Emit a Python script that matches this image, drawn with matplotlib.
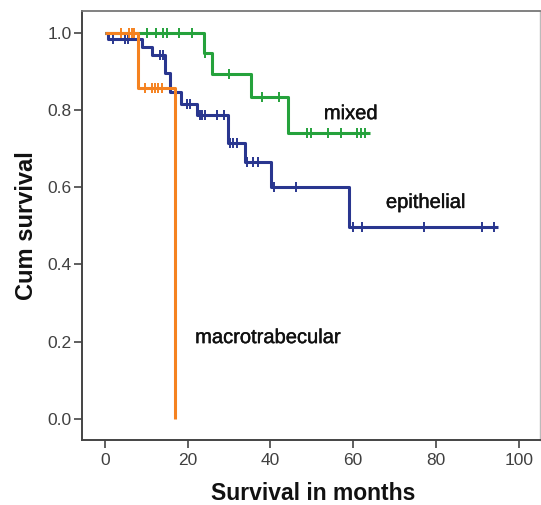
import numpy as np
import matplotlib
matplotlib.use("Agg")
import matplotlib.pyplot as plt
import matplotlib.patheffects as pe

plt.rcParams["font.family"] = ["Liberation Sans", "DejaVu Sans"]

# Kaplan-Meier data (months, cumulative survival)
epi_event_t = [0.75, 8.9, 11.5, 14.5, 15.7, 18.5, 22.2, 29.8, 33.8, 40.1, 59.0]
epi_event_s = [0.983, 0.964, 0.942, 0.895, 0.847, 0.815, 0.787, 0.713, 0.666, 0.601, 0.497]
epi_cens_t = [2.0, 4.9, 5.65, 13.3, 14.0, 19.8, 20.6, 23.0, 23.5, 24.3, 27.0, 28.8,
              30.2, 31.0, 31.8, 34.25, 35.8, 37.0, 40.8, 46.1, 59.9, 62.0, 77.1, 91.0, 94.0]
epi_end = 95.0

mix_event_t = [24.0, 25.9, 35.2, 44.2]
mix_event_s = [0.947, 0.892, 0.834, 0.739]
mix_cens_t = [10.1, 12.3, 14.1, 14.9, 18.0, 21.0, 24.2, 30.0, 37.9, 42.05,
              48.9, 49.7, 54.0, 57.0, 61.0, 61.9, 62.8]
mix_end = 64.0

mac_event_t = [7.9, 16.9]
mac_event_s = [0.857, 0.0]
mac_cens_t = [3.9, 5.8, 6.6, 7.1, 9.7, 11.3, 12.1, 12.9, 13.7]
mac_end = 16.9

groups = [
    ("mixed", mix_event_t, mix_event_s, mix_cens_t, mix_end, "#25a23c"),
    ("epithelial", epi_event_t, epi_event_s, epi_cens_t, epi_end, "#29368f"),
    ("macrotrabecular", mac_event_t, mac_event_s, mac_cens_t, mac_end, "#f58220"),
]


def km_value(t, event_t, event_s):
    # survival just after time t on the step curve
    idx = np.searchsorted(event_t, t, side="right")
    return 1.0 if idx == 0 else event_s[idx - 1]


fig = plt.figure(figsize=(5.41, 5.05), dpi=100)
ax = fig.add_axes([0.151, 0.1287, 0.847, 0.8495])

for name, ev_t, ev_s, c_t, t_end, color in groups:
    xs = [0.0] + list(ev_t) + [t_end]
    ys = [1.0] + list(ev_s) + [ev_s[-1]]
    ax.step(xs, ys, where="post", color=color, lw=2.2, solid_capstyle="butt")
    c_s = [km_value(t, ev_t, ev_s) for t in c_t]
    ax.plot(c_t, c_s, ls="none", marker="|", ms=7.5, mew=1.4, color=color)

# group labels (slight stroke to mimic the heavier original rendering)
thick = [pe.withStroke(linewidth=0.3, foreground="#111111")]
ax.text(52.9, 0.776, "mixed", fontsize=14.5, color="#111111", path_effects=thick)
ax.text(67.9, 0.546, "epithelial", fontsize=14.5, color="#111111", path_effects=thick)
ax.text(21.8, 0.196, "macrotrabecular", fontsize=14.5, color="#111111", path_effects=thick)

ax.set_xlim(-5.6, 105.1)
ax.set_ylim(-0.055, 1.056)
ax.set_xticks([0, 20, 40, 60, 80, 100])
ax.set_yticks([0.0, 0.2, 0.4, 0.6, 0.8, 1.0])
ax.set_yticklabels(["0.0", "0.2", "0.4", "0.6", "0.8", "1.0"])
ax.tick_params(axis="both", direction="out", length=6, width=1.2, color="#444444",
               labelsize=12.5, labelcolor="#404040")
ax.tick_params(axis="y", pad=1)
ax.tick_params(axis="x", pad=3)

for side in ["left", "bottom"]:
    ax.spines[side].set_color("#444444")
    ax.spines[side].set_linewidth(1.4)
ax.spines["top"].set_color("#777777")
ax.spines["top"].set_linewidth(1.3)
ax.spines["right"].set_color("#bbbbbb")
ax.spines["right"].set_linewidth(1.0)

fig.text(0.578, 0.0099, "Survival in months", fontsize=16.5, fontweight="bold",
         ha="center", va="baseline", color="#111111")
fig.text(0.061, 0.553, "Cum survival", fontsize=17, fontweight="bold", rotation=90,
         rotation_mode="anchor", ha="center", va="baseline", color="#111111")

fig.savefig("out.png", dpi=100)
